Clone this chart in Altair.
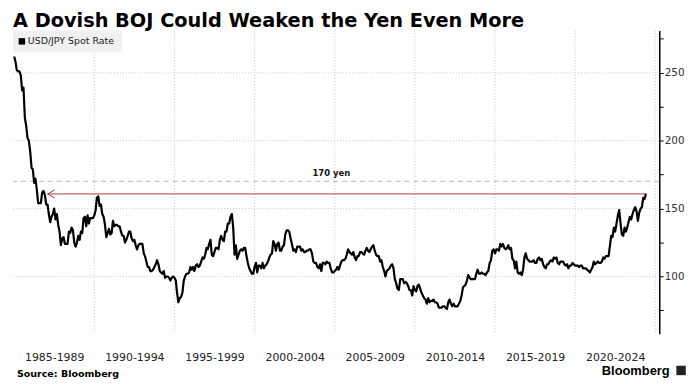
import altair as alt
import pandas as pd

# ---------------- data (monthly USD/JPY) ----------------
rates_1985_1994 = [
    262, 258, 252, 251, 251, 248, 237, 239, 217, 211, 202, 200,   # 1985
    192, 180, 179, 169, 172, 164, 154, 154, 154, 162, 163, 160,   # 1986
    153, 153, 146, 140, 144, 146, 150, 142, 146, 138, 133, 123,   # 1987
    128, 129, 124, 124, 124, 133, 132, 136, 134, 125, 122, 125,   # 1988
    130, 127, 133, 132, 143, 144, 137, 145, 139, 143, 143, 143,   # 1989
    145, 149, 158, 159, 152, 153, 146, 144, 138, 129, 132, 135,   # 1990
    131, 132, 141, 137, 138, 138, 137, 137, 133, 130, 130, 125,   # 1991
    127, 130, 133, 133, 128, 126, 127, 123, 120, 123, 124, 124,   # 1992
    124, 117, 115, 111, 107, 107, 104, 104, 105, 107, 109, 112,   # 1993
    109, 104, 103, 102, 104, 99, 100, 100, 99, 97, 99, 100,       # 1994
]
rates_1995_2004 = [
    99, 97, 88, 81, 84, 85, 88, 97, 100, 102, 102, 103,           # 1995
    107, 105, 107, 104, 108, 109, 107, 108, 111, 114, 113, 116,   # 1996
    121, 120, 124, 127, 116, 115, 118, 121, 121, 120, 127, 130,   # 1997
    127, 126, 133, 133, 139, 139, 144, 146, 136, 116, 123, 113,   # 1998
    116, 119, 120, 119, 121, 121, 115, 110, 106, 104, 102, 102,   # 1999
    107, 110, 103, 108, 108, 106, 110, 106, 108, 109, 111, 114,   # 2000
    116, 117, 126, 124, 119, 124, 125, 119, 119, 122, 123, 131,   # 2001
    134, 134, 133, 128, 124, 119, 120, 118, 122, 122, 122, 119,   # 2002
    120, 118, 118, 119, 119, 120, 120, 117, 111, 110, 110, 107,   # 2003
    106, 109, 104, 110, 110, 109, 111, 110, 110, 106, 103, 103,   # 2004
]
rates_2005_2014 = [
    104, 105, 107, 105, 108, 111, 112, 112, 113, 116, 120, 118,   # 2005
    117, 116, 118, 114, 112, 115, 115, 118, 118, 117, 116, 119,   # 2006
    121, 119, 118, 120, 122, 123, 119, 116, 115, 115, 111, 112,   # 2007
    107, 104, 100, 104, 105, 106, 108, 109, 106, 98, 95, 91,      # 2008
    90, 98, 98, 98, 95, 96, 95, 93, 90, 90, 86, 93,               # 2009
    90, 89, 93, 94, 91, 88, 86, 84, 83, 80, 84, 81,               # 2010
    82, 82, 83, 81, 81, 80, 77, 77, 77, 78, 78, 77,               # 2011
    76, 81, 83, 80, 78, 80, 78, 78, 78, 80, 82, 86,               # 2012
    92, 93, 94, 97, 101, 99, 98, 98, 98, 98, 102, 105,            # 2013
    102, 102, 103, 102, 102, 101, 103, 104, 110, 112, 119, 120,   # 2014
]
rates_2015_2024 = [
    117, 120, 120, 119, 124, 122, 124, 121, 120, 121, 123, 120,   # 2015
    121, 113, 112, 106, 111, 103, 102, 103, 101, 105, 114, 117,   # 2016
    113, 112, 111, 111, 111, 112, 110, 110, 113, 114, 112, 113,   # 2017
    109, 107, 106, 109, 109, 111, 112, 111, 114, 113, 114, 110,   # 2018
    109, 111, 111, 111, 109, 108, 109, 106, 108, 108, 110, 109,   # 2019
    108, 108, 108, 107, 108, 108, 106, 106, 106, 105, 104, 103,   # 2020
    105, 107, 111, 109, 110, 111, 110, 110, 111, 114, 113, 115,   # 2021
    115, 115, 122, 130, 129, 136, 133, 139, 145, 149, 139, 131,   # 2022
    130, 136, 133, 136, 140, 144, 142, 146, 149, 151, 148, 141,   # 2023
    147, 150, 151, 158, 157, 161,                                  # 2024
]
first_month = "1985-01-01"

period_labels = ["1985-1989", "1990-1994", "1995-1999", "2000-2004",
                 "2005-2009", "2010-2014", "2015-2019", "2020-2024"]
grid_years = [1990, 1995, 2000, 2005, 2010, 2015, 2020, 2025]
y_grid_values = [100, 150, 200, 250]
y_tick_values = [75, 100, 125, 150, 175, 200, 225, 250, 275]

threshold_value = 170
threshold_label = "170 yen"
arrow_start = "1987-02-01"
arrow_end = "2024-06-01"
arrow_level = 160.8

title_text = "A Dovish BOJ Could Weaken the Yen Even More"
legend_text = "USD/JPY Spot Rate"
source_text = "Source: Bloomberg"
logo_text = "Bloomberg"

# ---------------- tables ----------------
values = rates_1985_1994 + rates_1995_2004 + rates_2005_2014 + rates_2015_2024
dates = pd.date_range(first_month, periods=len(values), freq="MS")
df = pd.DataFrame({"date": dates.strftime("%Y-%m-%d"), "rate": values})

grid_x_df = pd.DataFrame({"date": [f"{y}-01-01" for y in grid_years]})
grid_y_df = pd.DataFrame({"v": y_grid_values})
thr_df = pd.DataFrame({"v": [threshold_value], "label": [threshold_label],
                       "date": ["2004-10-15"]})
arrow_df = pd.DataFrame({"start": [arrow_start], "end": [arrow_end], "v": [arrow_level]})

W, H = 652, 306
x_scale = alt.Scale(domain=["1984-12-04", "2025-04-01"])
y_scale = alt.Scale(domain=[57.8, 281.2], nice=False, zero=False)

FONT = "DejaVu Sans"

mid_period = [alt.DateTime(year=int(p[:4]) + 2, month=7, date=2) for p in period_labels]
label_array = "[" + ",".join(f"'{p}'" for p in period_labels) + "]"

x_axis = alt.Axis(
    values=mid_period,
    labelExpr=f"{label_array}[floor((year(datum.value)-1985)/5)]",
    ticks=False, tickSize=0, domain=False, grid=False,
    labelPadding=18, labelFont=FONT, labelFontSize=11, labelColor="#222",
    labelFlush=False, labelOverlap=False, labelAngle=0, title=None,
)
y_axis = alt.Axis(
    orient="right", values=y_tick_values,
    labelExpr="datum.value % 50 == 0 ? datum.label : ''",
    grid=False, domainColor="black", domainWidth=1.5,
    tickColor="black", tickSize=4, tickWidth=1,
    labelPadding=1, labelFont=FONT, labelFontSize=10.5, labelColor="#333",
    title=None,
)


def X(field):
    return alt.X(field, scale=x_scale, axis=x_axis)


def Y(field):
    return alt.Y(field, scale=y_scale, axis=y_axis)


grid_x = alt.Chart(grid_x_df).mark_rule(color="#c8c8c8", strokeDash=[1, 2], strokeWidth=1).encode(
    x=X("date:T")
)
grid_y = alt.Chart(grid_y_df).mark_rule(color="#c8c8c8", strokeDash=[1, 2], strokeWidth=1).encode(
    y=Y("v:Q")
)
thr_line = alt.Chart(thr_df).mark_rule(color="#c4c4c4", strokeDash=[5, 4], strokeWidth=1.3).encode(
    y=Y("v:Q")
)
thr_text = alt.Chart(thr_df).mark_text(
    font=FONT, fontSize=8.5, fontWeight="bold", color="#111", dy=-8
).encode(
    x=X("date:T"),
    y=Y("v:Q"),
    text="label:N",
)
arrow_line = alt.Chart(arrow_df).mark_rule(color="#b03a3a", strokeWidth=1).encode(
    x=X("start:T"),
    x2="end:T",
    y=Y("v:Q"),
)
arrow_head = alt.Chart(arrow_df).mark_point(
    shape="M1.8,-1L0,0L1.8,1", filled=False, color="#b03a3a", strokeWidth=1, size=64, opacity=1
).encode(
    x=X("start:T"),
    y=Y("v:Q"),
)
line = alt.Chart(df).mark_line(color="black", strokeWidth=2.2, strokeJoin="round").encode(
    x=X("date:T"),
    y=Y("rate:Q"),
)

# legend box
legend_bg = alt.Chart(pd.DataFrame({"t": [legend_text]})).mark_rect(color="#f0f0f0").encode(
    x=alt.value(0), x2=alt.value(110), y=alt.value(0), y2=alt.value(22)
)
legend_sym = alt.Chart(pd.DataFrame({"t": [legend_text]})).mark_square(color="black", size=42, opacity=1).encode(
    x=alt.value(9), y=alt.value(11)
)
legend_txt = alt.Chart(pd.DataFrame({"t": [legend_text]})).mark_text(
    font=FONT, fontSize=9.5, color="#222", align="left", baseline="middle"
).encode(x=alt.value(15), y=alt.value(11), text="t:N")

title = alt.Chart(pd.DataFrame({"t": [title_text]})).mark_text(
    font=FONT, fontSize=19.5, fontWeight="bold", color="black", align="left", baseline="alphabetic"
).encode(x=alt.value(0), y=alt.value(-3), text="t:N")

source = alt.Chart(pd.DataFrame({"t": [source_text]})).mark_text(
    font=FONT, fontSize=9.6, fontWeight="bold", color="black", align="left", baseline="middle"
).encode(x=alt.value(4), y=alt.value(347), text="t:N")

logo = alt.Chart(pd.DataFrame({"t": [logo_text]})).mark_text(
    font="Liberation Sans", fontSize=13, fontWeight="bold", color="black", align="left", baseline="middle"
).encode(x=alt.value(594), y=alt.value(344), text="t:N")
logo_icon = alt.Chart(pd.DataFrame({"t": [logo_text]})).mark_square(color="#222", size=90, opacity=1).encode(
    x=alt.value(674), y=alt.value(343)
)

chart = alt.layer(
    grid_x, grid_y, thr_line, arrow_line, arrow_head, line, thr_text,
    legend_bg, legend_sym, legend_txt, title, source, logo, logo_icon,
).properties(
    width=W, height=H,
    background="white",
    autosize=alt.AutoSizeParams(type="none"),
    padding={"left": 5, "top": 21, "right": 30, "bottom": 47},
).configure_view(stroke=None)

chart.save("out.html", embed_options={"renderer": "svg", "actions": False})
